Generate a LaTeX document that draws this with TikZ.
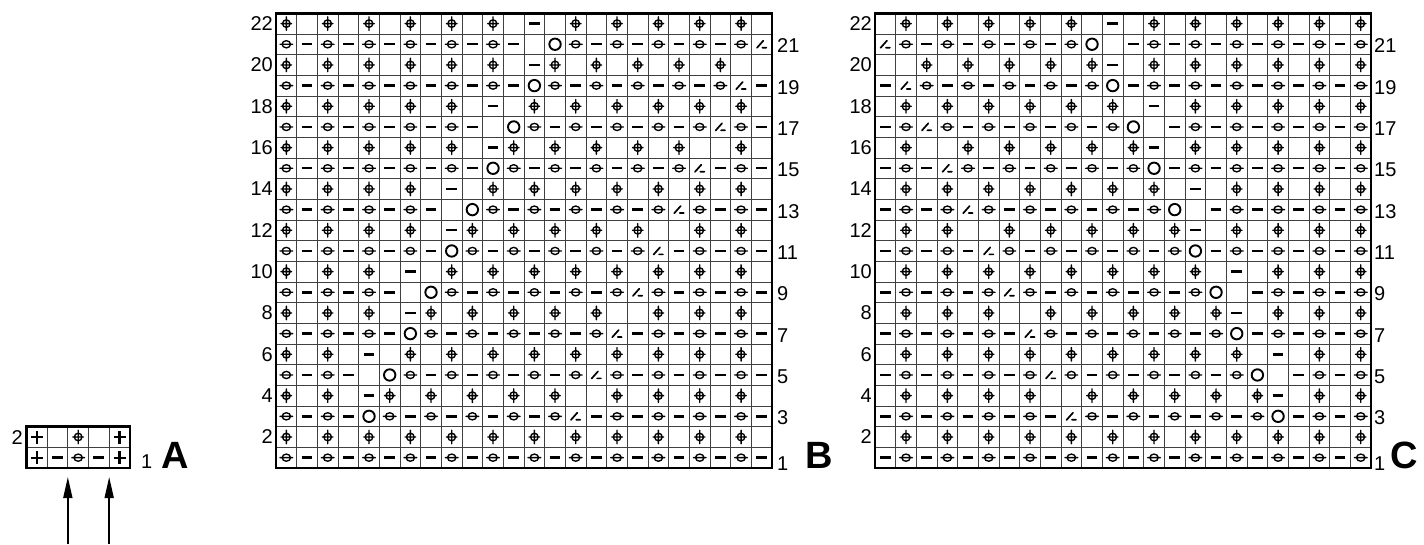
\documentclass[tikz,border=0pt]{standalone}
\usepackage{fontspec}
\setmainfont{Liberation Sans}
\usetikzlibrary{arrows.meta,positioning}

\newcommand{\stK}{\draw[stitch] (0,0) circle[radius=3.8] (0,-6.8) -- (0,6.8) (-5.3,0) -- (5.3,0);}
\newcommand{\stP}{\draw[stitch] (0,0) ellipse[x radius=4.2,y radius=3.6] (-6.4,0) -- (6.4,0);}
\newcommand{\stM}{\draw[stitch, line width=2.4pt, line cap=butt] (-5.4,0) -- (5.4,0);}
\newcommand{\stO}{\draw[stitch, line width=1.9pt] (0,0) circle[radius=5.7];}
\newcommand{\stS}{\draw[stitch, line width=1.7pt] (-4.8,-3.6) -- (1.6,3.6) (0.6,-3.4) -- (4.6,-3.4);}
\newcommand{\stT}{\draw[stitch, line width=2.1pt, line cap=butt] (-6,0) -- (6,0) (0,-6.5) -- (0,6.5);}
\newcommand{\stN}{}

\def\laceB{%
 {P,M,P,M,P,M,P,M,P,M,P,M,P,M,P,M,P,M,P,M,P,M,P,M},
 {K,N,K,N,K,N,K,N,K,N,K,N,K,N,K,N,K,N,K,N,K,N,K,N},
 {P,M,P,M,O,P,M,P,M,P,M,P,M,P,S,M,P,M,P,M,P,M,P,M},
 {K,N,K,N,M,K,N,K,N,K,N,K,N,K,N,N,K,N,K,N,K,N,K,N},
 {P,M,P,M,N,O,P,M,P,M,P,M,P,M,P,S,P,M,P,M,P,M,P,M},
 {K,N,K,N,M,N,K,N,K,N,K,N,K,N,K,N,K,N,K,N,K,N,K,N},
 {P,M,P,M,P,M,O,P,M,P,M,P,M,P,M,P,S,M,P,M,P,M,P,M},
 {K,N,K,N,K,N,M,K,N,K,N,K,N,K,N,K,N,N,K,N,K,N,K,N},
 {P,M,P,M,P,M,N,O,P,M,P,M,P,M,P,M,P,S,P,M,P,M,P,M},
 {K,N,K,N,K,N,M,N,K,N,K,N,K,N,K,N,K,N,K,N,K,N,K,N},
 {P,M,P,M,P,M,P,M,O,P,M,P,M,P,M,P,M,P,S,M,P,M,P,M},
 {K,N,K,N,K,N,K,N,M,K,N,K,N,K,N,K,N,K,N,N,K,N,K,N},
 {P,M,P,M,P,M,P,M,N,O,P,M,P,M,P,M,P,M,P,S,P,M,P,M},
 {K,N,K,N,K,N,K,N,M,N,K,N,K,N,K,N,K,N,K,N,K,N,K,N},
 {P,M,P,M,P,M,P,M,P,M,O,P,M,P,M,P,M,P,M,P,S,M,P,M},
 {K,N,K,N,K,N,K,N,K,N,M,K,N,K,N,K,N,K,N,K,N,N,K,N},
 {P,M,P,M,P,M,P,M,P,M,N,O,P,M,P,M,P,M,P,M,P,S,P,M},
 {K,N,K,N,K,N,K,N,K,N,M,N,K,N,K,N,K,N,K,N,K,N,K,N},
 {P,M,P,M,P,M,P,M,P,M,P,M,O,P,M,P,M,P,M,P,M,P,S,M},
 {K,N,K,N,K,N,K,N,K,N,K,N,M,K,N,K,N,K,N,K,N,K,N,N},
 {P,M,P,M,P,M,P,M,P,M,P,M,N,O,P,M,P,M,P,M,P,M,P,S},
 {K,N,K,N,K,N,K,N,K,N,K,N,M,N,K,N,K,N,K,N,K,N,K,N}}

\begin{document}
\begin{tikzpicture}[x=1pt, y=1pt,
  stitch/.style={line width=1.35pt, line cap=round},
  cellgrid/.style={line width=0.8pt, black!75},
  frame/.style={line width=2.7pt},
  rownum/.style={font=\fontsize{20}{20}\selectfont, inner sep=0pt},
  chartname/.style={font=\bfseries\fontsize{38}{38}\selectfont, inner sep=0pt, anchor=base west},
  arr/.style={line width=1.6pt, -{Triangle[length=21pt, width=9pt]}}
]
  \useasboundingbox (0,0) rectangle (1424,544);

  % chart A
  \begin{scope}[shift={(26.5,76)}]
    \draw[cellgrid] (0,0) grid[step=20.67] (103.35,41.34);
    \draw[frame] (0,0) rectangle (103.35,41.34);
  \end{scope}
  \foreach \s [count=\col] in {T,M,P,M,T} {
    \begin{scope}[shift={(16.165+20.67*\col, 86.335)}] \csname st\s\endcsname \end{scope}
  }
  \foreach \s [count=\col] in {T,N,K,N,T} {
    \begin{scope}[shift={(16.165+20.67*\col, 107)}] \csname st\s\endcsname \end{scope}
  }
  \node[rownum, anchor=east] (al2) at (23,106) {2};
  \node[rownum, anchor=west] (al1) at (141,82) {1};
  \node[chartname] (nameA) at (161,76) {A};
  \coordinate (tipA1) at (67.84,67);
  \coordinate (footA1) at (67.84,0);
  \coordinate (tipA2) at (109.18,67);
  \coordinate (footA2) at (109.18,0);
  \draw[arr] (footA1) -- (tipA1);
  \draw[arr] (footA2) -- (tipA2);

  % charts B and C (C is B mirrored)
  \foreach \ox in {276,875} {
    \begin{scope}[shift={(\ox,76)}]
      \draw[cellgrid] (0,0) grid[step=20.67] (496.08,454.74);
      \draw[frame] (0,0) rectangle (496.08,454.74);
    \end{scope}
  }
  \foreach \rowdata [count=\rw] in \laceB {
    \foreach \s [count=\col] in \rowdata {
      \begin{scope}[shift={(265.665+20.67*\col, 65.665+20.67*\rw)}] \csname st\s\endcsname \end{scope}
      \begin{scope}[shift={(1381.415-20.67*\col, 65.665+20.67*\rw)}] \csname st\s\endcsname \end{scope}
    }
  }
  \foreach \rw in {2,4,...,22} {
    \node[rownum, anchor=east] (bl\rw) at (273, 65.665+20.67*\rw) {\rw};
    \node[rownum, anchor=east] (cl\rw) at (872, 65.665+20.67*\rw) {\rw};
  }
  \foreach \rw in {3,5,...,21} {
    \node[rownum, anchor=west] (br\rw) at (777, 64+20.67*\rw) {\rw};
    \node[rownum, anchor=west] (cr\rw) at (1374, 64+20.67*\rw) {\rw};
  }
  \node[rownum, anchor=west] (br1) at (777,80) {1};
  \node[rownum, anchor=west] (cr1) at (1374,80) {1};
  \node[chartname] (nameB) at (805,76) {B};
  \node[chartname] (nameC) at (1390,76) {C};
\end{tikzpicture}
\end{document}
